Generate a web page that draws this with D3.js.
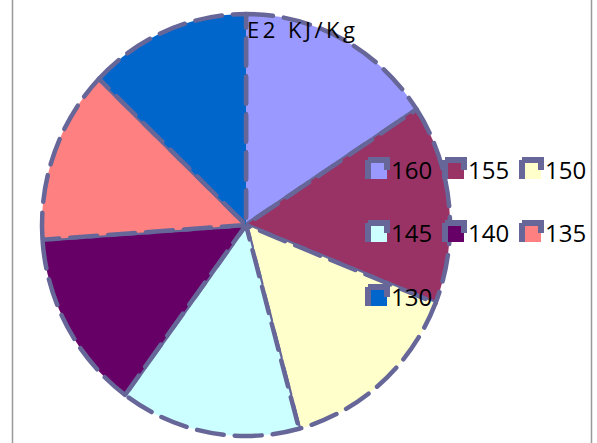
<!DOCTYPE html>
<meta charset="utf-8">
<style>
  body { margin: 0; background: #fff; }
  text { font-family: "Open Sans", "Liberation Sans", sans-serif; fill: #000; }
</style>
<body>
<div id="chart"></div>
<script src="https://d3js.org/d3.v7.min.js"></script>
<script>
// data (the slice sizes follow the labels)
var labels = ["160", "155", "150", "145", "140", "135", "130"];
var values = [160, 155, 150, 145, 140, 135, 130];
var colors = ["#9999FF", "#993366", "#FFFFCC", "#CCFFFF", "#660066", "#FF8080", "#0066CC"];
var title = "E2 KJ/Kg";

var width = 597, height = 443;
var outline = "#666699";

var svg = d3.select("#chart").append("svg")
    .attr("width", width)
    .attr("height", height);

// chart area side borders
svg.append("line").attr("x1", 12.5).attr("x2", 12.5).attr("y1", 0).attr("y2", height)
    .attr("stroke", "#999").attr("stroke-width", 1.5);
svg.append("line").attr("x1", 591.5).attr("x2", 591.5).attr("y1", 0).attr("y2", height)
    .attr("stroke", "#999").attr("stroke-width", 1.5);

// pie (slightly taller than wide, as in the picture)
var rx = 204, ry = 211;
var pie = d3.pie().sort(null).value(function(d) { return d; });
var arc = d3.arc().innerRadius(0).outerRadius(rx);

var pieG = svg.append("g")
    .attr("transform", "translate(246,225) scale(1," + (ry / rx) + ")");

pieG.selectAll("path.slice")
  .data(pie(values))
  .enter()
  .append("path")
    .attr("class", "slice")
    .attr("d", arc)
    .attr("fill", function(d, i) { return colors[i]; })
    .attr("stroke", outline)
    .attr("stroke-width", 4.5)
    .attr("stroke-dasharray", "27 11")
    .attr("stroke-linecap", "round")
    .attr("stroke-linejoin", "round")
    .attr("vector-effect", "non-scaling-stroke");

// title
svg.append("text")
    .attr("x", 247)
    .attr("y", 38)
    .attr("font-size", 22)
    .attr("letter-spacing", 3.5)
    .text(title);

// legend: 3 columns
var colX = [368, 445, 522];
var rowY = [160, 223, 287];

var legend = svg.selectAll("g.legend")
  .data(labels)
  .enter()
  .append("g")
    .attr("class", "legend")
    .attr("transform", function(d, i) {
      return "translate(" + colX[i % 3] + "," + rowY[Math.floor(i / 3)] + ")";
    });

legend.append("rect")
    .attr("width", 19)
    .attr("height", 19)
    .attr("fill", function(d, i) { return colors[i]; })
    .attr("stroke", outline)
    .attr("stroke-width", 6)
    .attr("stroke-dasharray", "29 28 19 0");

legend.append("text")
    .attr("x", 23)
    .attr("y", 19)
    .attr("font-size", 24)
    .text(function(d) { return d; });
</script>
</body>
